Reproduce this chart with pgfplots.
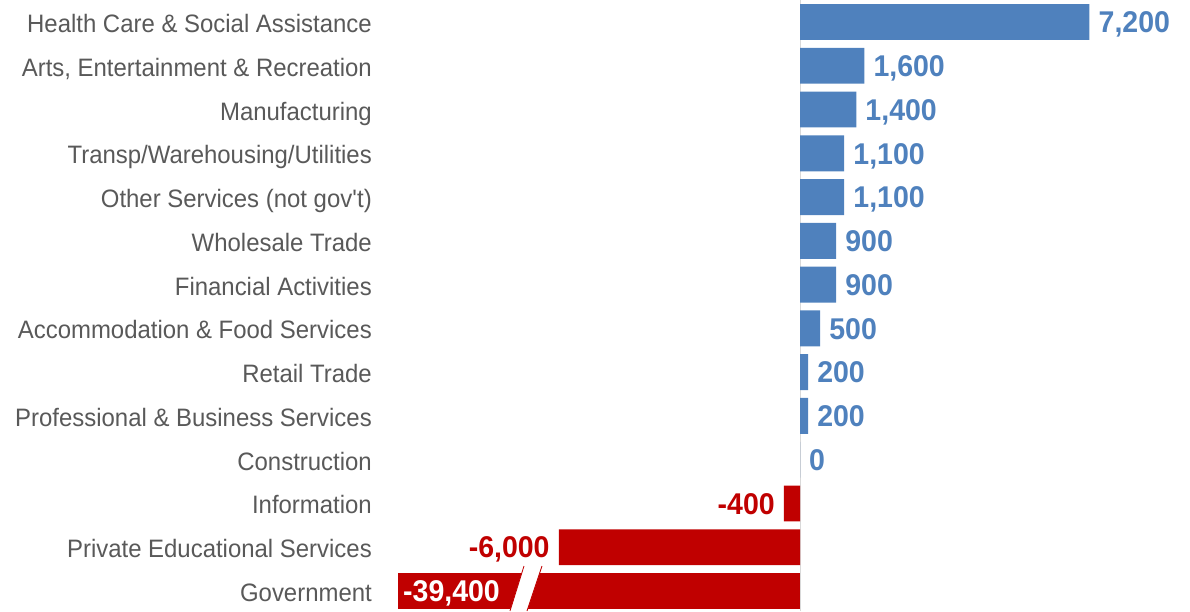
\documentclass[border=0pt]{standalone}
\usepackage{pgfplots}
\usepackage{pgfplotstable}
\pgfplotsset{compat=1.18}
\usepackage{fontspec}
\setmainfont{Liberation Sans}
\newfontfamily\narrowfont{Liberation Sans}[FakeStretch=0.95]
\definecolor{barblue}{HTML}{4F81BD}
\definecolor{barred}{HTML}{C00000}
\definecolor{labgray}{HTML}{595959}
\definecolor{axgray}{HTML}{D9D9D9}

% positive / zero changes
\pgfplotstableread{
y x label
3 0 0
4 200 200
5 200 200
6 500 500
7 900 900
8 900 900
9 1100 1,100
10 1100 1,100
11 1400 1,400
12 1600 1,600
13 7200 7,200
}\pos
% negative changes
\pgfplotstableread{
y x label
1 -6000 -6,000
2 -400 -400
}\neg
% Government: actual -39,400, bar drawn truncated (broken axis) at -10,000
\pgfplotstableread{
y x label
0 -10000 -39,400
}\gov

\tikzset{vallab/.style={font=\narrowfont\bfseries\fontsize{30}{34}\selectfont, inner sep=0pt, text height=21.5pt, text depth=0pt}}

\begin{document}
\begin{tikzpicture}
\useasboundingbox (-398pt,0pt) rectangle (792pt,611pt);
\begin{axis}[
  at={(0pt,0pt)}, anchor=south west,
  scale only axis, width=792pt, height=611pt,
  xmin=-10000, xmax=9701, ymin=-0.457, ymax=13.503,
  xbar, bar shift=0pt, bar width=0.82,
  axis line style={draw=none},
  xtick=\empty,
  major tick length=0pt,
  ytick={0,...,13},
  yticklabels={Government, Private Educational Services, Information, Construction,
    Professional \& Business Services, Retail Trade, Accommodation \& Food Services,
    Financial Activities, Wholesale Trade, Other Services (not gov\textquotesingle t),
    Transp/Warehousing/Utilities, Manufacturing, {Arts, Entertainment \& Recreation},
    Health Care \& Social Assistance},
  yticklabel style={font=\narrowfont\fontsize{25.2}{29}\selectfont, text=labgray, anchor=east, inner sep=0pt, text height=18pt, text depth=0pt, xshift=-26pt, yshift=-1.5pt},
  point meta=explicit symbolic,
  nodes near coords,
  clip=false,
]
\draw[axgray, line width=1pt] (axis cs:0,-0.457) -- (axis cs:0,13.503);
\addplot[fill=barblue, draw=none,
  every node near coord/.append style={vallab, text=barblue, anchor=west, xshift=9pt}]
  table[x=x, y=y, meta=label]{\pos};
\addplot[fill=barred, draw=none,
  every node near coord/.append style={vallab, text=barred, anchor=east, xshift=-9pt}]
  table[x=x, y=y, meta=label]{\neg};
\addplot[fill=barred, draw=none,
  every node near coord/.append style={vallab, text=white, anchor=west, xshift=5pt}]
  table[x=x, y=y, meta=label]{\gov};
% axis-break marker on the Government bar
\fill[white] (axis cs:-7214,-0.457) -- (axis cs:-6791,-0.457) -- (axis cs:-6418,0.571) -- (axis cs:-6866,0.571) -- cycle;
\draw[barred, line width=0.8pt] (axis cs:-7214,-0.457) -- (axis cs:-6866,0.571);
\draw[barred, line width=0.8pt] (axis cs:-6791,-0.457) -- (axis cs:-6418,0.571);
\end{axis}
\end{tikzpicture}
\end{document}
